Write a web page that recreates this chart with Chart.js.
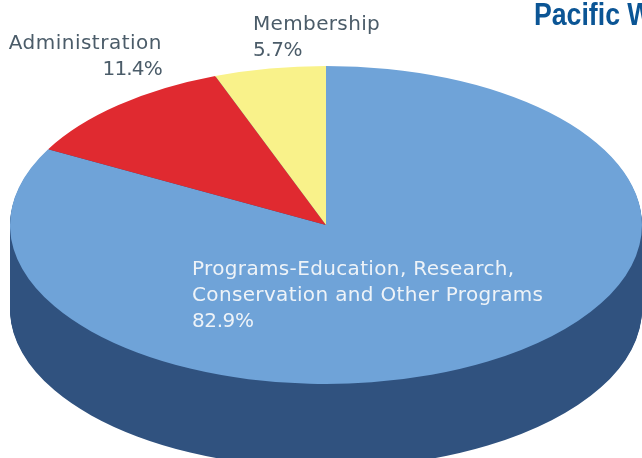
<!DOCTYPE html>
<html>
<head>
<meta charset="utf-8">
<title>Pacific Whale</title>
<script src="https://cdn.jsdelivr.net/npm/chart.js@4"></script>
<style>
html, body { margin: 0; padding: 0; background: #fff; overflow: hidden; }
#wrap { position: relative; width: 642px; height: 458px; overflow: hidden; }
#chart { position: absolute; left: 0; top: 0; }
.lbl { position: absolute; font-family: "DejaVu Sans", sans-serif; font-size: 20px; line-height: 26px; white-space: pre; color: #4b5c69; letter-spacing: 0.35px; }
.lbl span { letter-spacing: -0.4px; }
#lbl-programs { left: 192px; top: 255px; color: #eef3f8; }
#lbl-admin { right: 480px; top: 29px; text-align: right; letter-spacing: 0.5px; }
#lbl-admin span { letter-spacing: -0.8px; }
#lbl-member { left: 253px; top: 10px; }
#title { position: absolute; left: 534px; top: -3px; font-family: "Liberation Sans", sans-serif; font-weight: bold; font-size: 31px; color: #0b5595; white-space: pre; transform: scaleX(0.86); transform-origin: left top; }
</style>
</head>
<body>
<div id="wrap">
    <canvas id="chart" width="642" height="642" style="width:642px;height:642px"></canvas>
    <div id="title"></div>
    <div class="lbl" id="lbl-programs"></div>
    <div class="lbl" id="lbl-admin"></div>
    <div class="lbl" id="lbl-member"></div>
</div>
<script>
const titleText = 'Pacific W';
const categories = ['Programs-Education, Research,\nConservation and Other Programs', 'Administration', 'Membership'];
const values = [82.9, 11.4, 5.7];
const colors = ['#6fa3d8', '#e02a30', '#f9f28a'];
const sideColor = '#30527f';

// the pie is squashed into an ellipse and extruded downwards
const centerX = 326, centerY = 225;
const radiusX = 316, radiusY = 159;
const depth = 84;

function setLabel(id, i) {
    const el = document.getElementById(id);
    const pct = document.createElement('span');
    pct.textContent = values[i].toFixed(1) + '%';
    el.textContent = categories[i] + '\n';
    el.appendChild(pct);
}

document.getElementById('title').textContent = titleText;
setLabel('lbl-programs', 0);
setLabel('lbl-admin', 1);
setLabel('lbl-member', 2);

function squash(ctx, arc) {
    ctx.translate(centerX, centerY);
    ctx.scale(radiusX / arc.outerRadius, radiusY / arc.outerRadius);
    ctx.translate(-arc.x, -arc.y);
}

const pie3d = {
    id: 'pie3d',
    beforeDatasetDraw(chart) {
        const ctx = chart.ctx;
        const arcs = chart.getDatasetMeta(0).data;
        ctx.save();
        arcs.forEach(arc => {
            const opts = arc.options;
            arc.options = Object.assign({}, opts, {backgroundColor: sideColor, borderColor: sideColor});
            for (let d = 1; d <= depth; d++) {
                ctx.save();
                ctx.translate(0, d);
                squash(ctx, arc);
                arc.draw(ctx);
                ctx.restore();
            }
            arc.options = opts;
        });
        // the stacked edges leave faint stripes, repaint the wall in one flat colour
        ctx.globalCompositeOperation = 'source-atop';
        ctx.fillStyle = sideColor;
        ctx.fillRect(0, 0, chart.width, chart.height);
        ctx.restore();
        ctx.save();
        squash(ctx, arcs[0]);
    },
    afterDatasetDraw(chart) {
        chart.ctx.restore();
    }
};

new Chart(document.getElementById('chart'), {
    type: 'pie',
    data: {
        labels: categories,
        datasets: [{
            data: values,
            backgroundColor: colors,
            borderWidth: 0
        }]
    },
    options: {
        responsive: false,
        animation: false,
        layout: { padding: 0 },
        plugins: {
            legend: { display: false },
            tooltip: { enabled: false }
        }
    },
    plugins: [pie3d]
});
</script>
</body>
</html>
